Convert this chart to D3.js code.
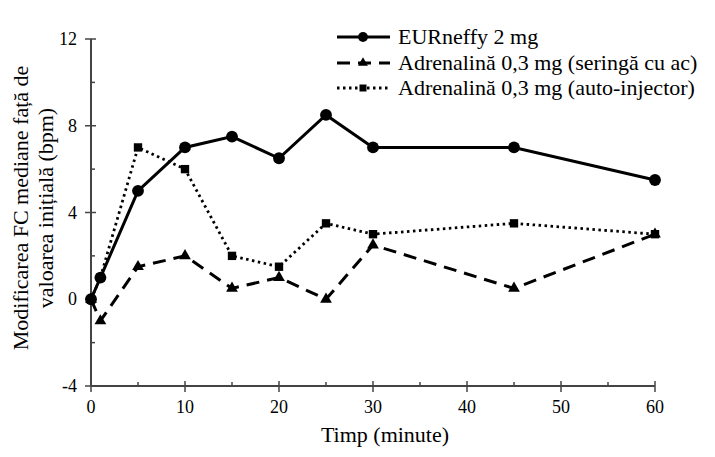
<!DOCTYPE html>
<html><head><meta charset="utf-8">
<script src="https://cdn.jsdelivr.net/npm/d3@7"></script>
<style>body{margin:0;background:#fff}svg{display:block}</style>
</head><body><svg id="c" width="715" height="457"></svg>
<script>
const times = [0, 1, 5, 10, 15, 20, 25, 30, 45, 60];
const eurneffy = [0, 1, 5, 7, 7.5, 6.5, 8.5, 7, 7, 5.5];
const syringe = [0, -1, 1.5, 2, 0.5, 1, 0, 2.5, 0.5, 3];
const autoInj = [0, 1, 7, 6, 2, 1.5, 3.5, 3, 3.5, 3];
const seriesNames = ["EURneffy 2 mg", "Adrenalină 0,3 mg (seringă cu ac)", "Adrenalină 0,3 mg (auto-injector)"];
const xTicks = [0, 10, 20, 30, 40, 50, 60];
const xMinor = [5, 15, 25, 35, 45, 55];
const yTicks = [-4, 0, 4, 8, 12];
const yMinor = [-2, 2, 6, 10];

const FONT = "Liberation Serif";
const svg = d3.select("#c");
const x = d3.scaleLinear().domain([0, 60]).range([91, 655]);
const y = d3.scaleLinear().domain([-4, 12]).range([386, 39]);
const axisCol = "#444";

const g = svg.append("g");
g.append("line").attr("x1", x(0)).attr("x2", x(0)).attr("y1", y(12)).attr("y2", y(-4)).attr("stroke", axisCol).attr("stroke-width", 2);
g.append("line").attr("x1", x(0)).attr("x2", x(60)).attr("y1", y(-4)).attr("y2", y(-4)).attr("stroke", axisCol).attr("stroke-width", 2);
yTicks.forEach(v => {
  g.append("line").attr("x1", x(0) - 6).attr("x2", x(0) + 5).attr("y1", y(v)).attr("y2", y(v)).attr("stroke", axisCol).attr("stroke-width", 1.5);
  g.append("text").attr("x", x(0) - 14).attr("y", y(v) + 6).attr("text-anchor", "end").style("font-family", FONT).style("font-size", "18px").text(v);
});
yMinor.forEach(v => {
  g.append("line").attr("x1", x(0)).attr("x2", x(0) + 4).attr("y1", y(v)).attr("y2", y(v)).attr("stroke", axisCol).attr("stroke-width", 1.5);
});
xTicks.forEach(v => {
  g.append("line").attr("x1", x(v)).attr("x2", x(v)).attr("y1", y(-4) - 5).attr("y2", y(-4) + 6).attr("stroke", axisCol).attr("stroke-width", 1.5);
  g.append("text").attr("x", x(v)).attr("y", y(-4) + 27).attr("text-anchor", "middle").style("font-family", FONT).style("font-size", "18px").text(v);
});
xMinor.forEach(v => {
  g.append("line").attr("x1", x(v)).attr("x2", x(v)).attr("y1", y(-4) - 4).attr("y2", y(-4)).attr("stroke", axisCol).attr("stroke-width", 1.5);
});

svg.append("text").attr("x", 385).attr("y", 442).attr("text-anchor", "middle").style("font-family", FONT).style("font-size", "22px").text("Timp (minute)");
const yt = svg.append("text").attr("transform", "translate(0,208) rotate(-90)").attr("text-anchor", "middle").style("font-family", FONT).style("font-size", "22px");
yt.append("tspan").attr("x", 0).attr("y", 28).text("Modificarea FC mediane față de");
yt.append("tspan").attr("x", 0).attr("y", 53).text("valoarea inițială (bpm)");

const styles = [
  {vals: eurneffy, dash: null, w: 3, sym: d3.symbolCircle, size: 110},
  {vals: syringe, dash: "13,8", w: 3, sym: d3.symbolTriangle, size: 60},
  {vals: autoInj, dash: "2.5,3.5", w: 2.8, sym: d3.symbolSquare, size: 70}
];
const line = d3.line().x(d => x(d[0])).y(d => y(d[1]));
styles.forEach(s => {
  const pts = times.map((t, i) => [t, s.vals[i]]);
  svg.append("path").attr("d", line(pts)).attr("fill", "none").attr("stroke", "#000").attr("stroke-width", s.w).attr("stroke-dasharray", s.dash);
  svg.append("g").selectAll("path").data(pts).join("path")
    .attr("transform", d => `translate(${x(d[0])},${y(d[1])})`)
    .attr("d", d3.symbol().type(s.sym).size(s.size)).attr("fill", "#000");
});

const ly = [37, 63, 88];
styles.forEach((s, i) => {
  svg.append("line").attr("x1", 337).attr("x2", 390).attr("y1", ly[i]).attr("y2", ly[i]).attr("stroke", "#000").attr("stroke-width", s.w).attr("stroke-dasharray", s.dash);
  svg.append("path").attr("transform", `translate(363,${ly[i]})`).attr("d", d3.symbol().type(s.sym).size(s.size * 0.7)).attr("fill", "#000");
  svg.append("text").attr("x", 398).attr("y", ly[i] + 7).style("font-family", FONT).style("font-size", "22px").text(seriesNames[i]);
});
</script></body></html>
